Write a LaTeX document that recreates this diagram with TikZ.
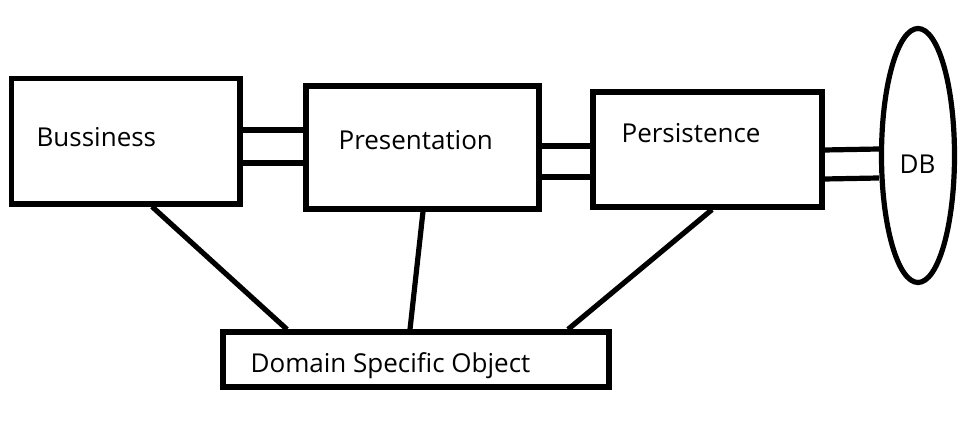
\documentclass[tikz,border=0pt]{standalone}
\usepackage{fontspec}
\setmainfont{Open Sans}
\usetikzlibrary{shapes.geometric}
\begin{document}
\begin{tikzpicture}[x=0.5pt,y=-0.5pt,line width=2.6pt,
  every node/.style={font=\fontsize{13}{15}\selectfont},
  layer/.style={draw,rectangle,inner sep=0pt},
  label text/.style={anchor=base west,inner sep=0pt}]
\useasboundingbox (0,0) rectangle (965,426);
% layers
\node[layer,minimum width=114.25pt,minimum height=62.75pt] (bus) at (125.75,141.25) {};
\node[layer,minimum width=116.5pt,minimum height=61.5pt] (pres) at (422.5,147.5) {};
\node[layer,minimum width=114.5pt,minimum height=57.5pt] (pers) at (707.5,149.5) {};
\node[layer,minimum width=193pt,minimum height=27.5pt] (dso) at (416,359.5) {};
\node[draw,ellipse,inner sep=0pt,minimum width=36.5pt,minimum height=127pt] (db) at (918,155.5) {};
% texts
\node[label text] (bustext) at (34,147) {Bussiness};
\node[label text] (prestext) at (336,150) {Presentation};
\node[label text] (perstext) at (619,143) {Persistence};
\node[label text] (dbtext) at (897,174) {DB};
\node[label text] (dsotext) at (248,373) {Domain Specific Object};
% double links
\draw (bus.east |- 0,130) -- (pres.west |- 0,130);
\draw (bus.east |- 0,163) -- (pres.west |- 0,163);
\draw (pres.east |- 0,146) -- (pers.west |- 0,146);
\draw (pres.east |- 0,177) -- (pers.west |- 0,177);
\draw (pers.east |- 0,150) -- (db.west |- 0,149);
\draw (pers.east |- 0,179) -- (db.west |- 0,178);
% links to the domain object
\draw (bus.south -| 152,0) -- (dso.north -| 287,0);
\draw (pres.south -| 423,0) -- (dso.north -| 410,0);
\draw (pers.south -| 712,0) -- (dso.north -| 568,0);
\end{tikzpicture}
\end{document}
